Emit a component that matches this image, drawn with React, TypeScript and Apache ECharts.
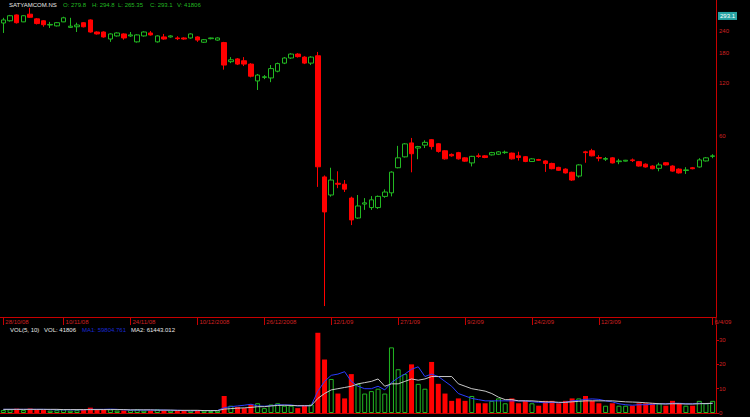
import React, { useEffect, useRef } from 'react';
import * as echarts from 'echarts';

// [open, close, low, high]
const ohlc: [number, number, number, number][] = [
  [267, 278, 234, 286], [275, 294, 272, 297], [297, 268, 265, 299], [271, 294, 270, 296],
  [300, 288, 286, 326], [282, 265, 262, 285], [275, 261, 254, 277], [260, 262, 250, 271],
  [257, 268, 255, 270], [271, 286, 270, 290], [252, 256, 250, 286], [254, 260, 237, 268],
  [268, 254, 252, 270], [278, 237, 235, 280], [237, 231, 229, 239], [237, 222, 220, 239],
  [216, 231, 208, 233], [225, 234, 223, 236], [231, 219, 214, 233], [225, 228, 222, 237],
  [208, 228, 206, 230], [225, 237, 223, 239], [234, 228, 226, 240], [208, 225, 206, 227],
  [222, 216, 214, 231], [222, 225, 220, 227], [219, 217, 213, 224], [219, 216, 214, 221],
  [219, 231, 217, 233], [222, 213, 208, 224], [207, 214, 205, 216], [217, 219, 215, 220],
  [213, 219, 211, 221], [206, 153, 144, 208], [160, 164, 157, 170], [166, 155, 153, 168],
  [162, 155, 151, 170], [155, 132, 130, 157], [124, 134, 110, 136], [130, 131, 127, 134],
  [129, 146, 122, 153], [141, 156, 139, 158], [157, 168, 155, 170], [168, 177, 166, 179],
  [177, 171, 169, 179], [170, 157, 155, 172], [157, 170, 153, 172], [173, 39.8, 30.5, 182],
  [34.8, 21.9, 6.3, 35.5], [27.4, 33.4, 26.8, 39.3], [32, 31.6, 30, 37.5], [31.6, 29.6, 28.5, 33.4],
  [26.3, 19.7, 18.4, 26.8], [20.2, 23.7, 20, 27.4], [24.3, 24.7, 22.5, 26.3], [23.2, 25.7, 22.5, 27],
  [23.2, 26.9, 22.8, 27.2], [26.9, 28.5, 26.4, 29.5], [28.2, 37.1, 26.9, 37.5], [39.3, 44.8, 39, 52.5],
  [45.4, 53.9, 45, 54.5], [54.6, 47.3, 37, 58.3], [51, 52, 44, 52.5], [53, 55, 51, 56.5],
  [57, 52, 50, 57.5], [54, 48.8, 48, 54.5], [49.2, 44.2, 43.8, 49.6], [46.9, 46, 45.5, 47.5],
  [48, 44.2, 43.8, 48.5], [44.8, 42.9, 42.5, 45.2], [41.9, 45.7, 40, 46], [46, 45.6, 44.8, 47.5],
  [46, 45, 44.6, 46.4], [46.6, 48, 46.2, 48.5], [47, 48.5, 46.5, 49], [48, 48.3, 47.2, 49.3],
  [47.7, 44.2, 43.8, 48], [46, 45, 43.2, 48.6], [45.5, 42.7, 42.3, 45.9], [42.7, 44.2, 42.4, 44.6],
  [43.8, 43.4, 43.1, 44.2], [43, 41.6, 37.2, 43.4], [41.6, 38.8, 38.5, 42], [39.5, 38, 37.7, 39.8],
  [38.6, 36.7, 36.4, 39], [37, 33.4, 33, 37.3], [35.2, 40.8, 34.5, 41.2], [48.5, 48, 42, 49.2],
  [49.2, 46, 45.7, 50.5], [45, 44.6, 42.8, 46.4], [44, 44.4, 43, 45.3], [44.8, 41.9, 41.6, 45.2],
  [42.6, 43, 41.2, 44.2], [42.9, 43.4, 42.7, 43.6], [43.6, 43.2, 42.4, 44.4], [42.6, 40.2, 39.9, 43],
  [41.2, 39.7, 39.4, 41.6], [40.2, 38.8, 38.5, 40.6], [39, 40.8, 37.5, 42], [42, 40.8, 40.5, 42.4],
  [40.2, 37.6, 37.3, 40.6], [38.6, 36.7, 36.4, 39], [37.9, 38.2, 36.2, 39.6], [39.3, 38.8, 38.5, 39.7],
  [39.7, 43.6, 39.4, 44.6], [43, 44.8, 42.7, 45.3], [45.7, 46, 44.6, 47],
];

const volume: number[] = [
  1.2, 1.5, 1.8, 1.2, 1.8, 1.5, 1.2, 1, 1.2, 1.5, 1, 1.2, 1.5, 2.2, 1.2, 1.5, 1.5, 1, 1, 1.2, 1.5, 1, 1, 1.5, 1, 1, 0.8, 0.8, 1, 1.2, 1, 0.8, 1,
  7, 3, 2.5, 2, 3.5, 4, 2, 3.5, 4, 3, 3, 2, 3, 3.5,
  33, 22, 14, 8, 6, 16, 12, 8, 9, 10, 8, 27, 18, 16, 20, 12, 10, 21, 12, 8, 5, 6, 5, 7,
  4, 4, 5, 6, 4, 6, 4, 5, 4, 3, 5, 5, 4, 5, 6, 6, 7, 5, 4, 3, 4, 3, 3, 3, 4, 4, 4, 4, 3, 5, 4, 3, 3, 5, 4, 5,
];

const volMa1: number[] = [
  1.5, 1.5, 1.5, 1.5, 1.5, 1.5, 1.5, 1.4, 1.3, 1.3, 1.3, 1.3, 1.3, 1.5, 1.5, 1.5, 1.6, 1.5, 1.3, 1.2, 1.2, 1.2, 1.2, 1.2, 1.2, 1.1, 1.1, 1, 0.9, 1, 1, 1, 1,
  2.2, 2.6, 2.9, 3.2, 3.6, 2.9, 2.8, 3, 3.4, 3.3, 3.3, 2.9, 3, 3,
  9, 13, 15.5, 16, 17, 13, 11, 10, 10, 11, 9.5, 12.5, 14.5, 16, 18, 19, 15, 16, 15, 13, 11, 8, 7, 6,
  5.5, 5, 5, 5, 5, 5, 5, 5, 4.6, 4.4, 4.2, 4.4, 4.2, 4.4, 5, 5.2, 5.6, 5.8, 5.6, 5, 4.6, 3.8, 3.4, 3.2,
  3.4, 3.4, 3.6, 3.8, 3.8, 4, 4, 3.8, 3.8, 4, 3.8, 4,
];

const volMa2: number[] = [
  1.5, 1.5, 1.5, 1.5, 1.5, 1.5, 1.5, 1.5, 1.5, 1.4, 1.4, 1.4, 1.4, 1.4, 1.4, 1.4, 1.4, 1.4, 1.4, 1.3, 1.3, 1.3, 1.3, 1.2, 1.2, 1.2, 1.1, 1.1, 1.1, 1.1, 1, 1, 1,
  1.6, 1.8, 2, 2.1, 2.3, 2.6, 2.6, 2.9, 3.1, 3.2, 3.1, 3, 3, 3,
  6, 8, 9.5, 10, 10.5, 11, 12, 12.5, 13, 14, 11, 12, 12, 13, 14, 13.5, 14, 15, 15, 15, 15, 12, 11, 10,
  9.5, 9, 8, 6.5, 5.5, 5.5, 5, 5, 5, 4.8, 4.6, 4.6, 4.4, 4.4, 4.6, 4.8, 5, 5, 5, 5, 5, 4.8, 4.6, 4.5,
  4.4, 4.2, 4, 3.8, 3.7, 3.8, 3.8, 3.7, 3.7, 3.8, 3.9, 4,
];

const dateLabels: Record<number, string> = {
  0: '28/10/08', 9: '10/11/08', 19: '24/11/08', 29: '10/12/2008', 39: '26/12/2008',
  49: '12/1/09', 59: '27/1/09', 69: '9/2/09', 79: '24/2/09', 89: '12/3/09', 106: '6/4/09',
};

const priceTicks = [60, 120, 180, 240];
const lastPrice = 293.1;

const RED = '#ff0000';
const AXIS_RED = '#c80000';
const GREEN = '#22b822';
const FONT = 'Liberation Sans, Arial, sans-serif';

export default function App() {
  const ref = useRef<HTMLDivElement>(null);
  useEffect(() => {
    document.body.style.margin = '0';
    document.body.style.background = '#000';
    const chart = echarts.init(ref.current!, undefined, { renderer: 'svg' });
    const categories = ohlc.map((_, i) => dateLabels[i] ?? String(i));
    const isLabel = (i: number) => dateLabels[i] !== undefined;

    const option: any = {
      animation: false,
      backgroundColor: '#000',
      grid: [
        { left: -2, right: 34, top: 0, height: 317 },
        { left: -2, right: 34, top: 325, bottom: 4 },
      ],
      xAxis: [
        {
          type: 'category', gridIndex: 0, data: categories, boundaryGap: true,
          axisLine: { show: true, lineStyle: { color: AXIS_RED, width: 1 } },
          axisTick: { show: true, alignWithLabel: true, interval: (i: number) => isLabel(i), length: 8, lineStyle: { color: AXIS_RED } },
          axisLabel: {
            show: true, interval: (i: number) => isLabel(i), color: '#d02020', fontSize: 6,
            fontFamily: FONT, align: 'left', margin: 2, padding: [0, 0, 0, 2],
          },
          splitLine: { show: false },
        },
        {
          type: 'category', gridIndex: 1, data: categories, boundaryGap: true, position: 'top',
          axisLine: { show: true, lineStyle: { color: AXIS_RED, width: 1 } },
          axisTick: { show: false }, axisLabel: { show: false }, splitLine: { show: false },
        },
      ],
      yAxis: [
        {
          type: 'log', logBase: 10, gridIndex: 0, position: 'right', min: 5.45, max: 362,
          axisLine: { show: true, lineStyle: { color: AXIS_RED } },
          axisTick: { show: false }, axisLabel: { show: false }, splitLine: { show: false },
        },
        {
          type: 'value', gridIndex: 1, position: 'right', min: 0, max: 36.2, interval: 10,
          axisLine: { show: true, lineStyle: { color: AXIS_RED } },
          axisTick: { show: true, length: 3, lineStyle: { color: AXIS_RED } },
          axisLabel: { show: true, showMaxLabel: false, color: '#d02020', fontSize: 6, fontFamily: FONT, margin: 3 },
          splitLine: { show: false },
        },
      ],
      series: [
        {
          type: 'candlestick', xAxisIndex: 0, yAxisIndex: 0, barWidth: 5,
          data: ohlc.map(([o, c, l, h]) => [o, c, l, h]),
          itemStyle: { color: '#000', color0: RED, borderColor: GREEN, borderColor0: RED, borderWidth: 1 },
          markLine: {
            silent: true, symbol: ['none', 'none'], animation: false,
            lineStyle: { color: 'transparent', width: 0 },
            label: { position: 'end', color: '#d02020', fontSize: 6, fontFamily: FONT, distance: 3 },
            data: [
              ...priceTicks.map(v => ({ yAxis: v, label: { formatter: String(v) } })),
              {
                yAxis: lastPrice,
                label: { formatter: String(lastPrice), color: '#ffffff', backgroundColor: '#27a3a3', padding: [1, 2, 1, 2], distance: 2 },
              },
            ],
          },
        },
        {
          type: 'bar', xAxisIndex: 1, yAxisIndex: 1, barWidth: 5,
          data: volume.map((v, i) => {
            const up = ohlc[i][1] >= ohlc[i][0];
            return {
              value: v,
              itemStyle: up ? { color: '#000', borderColor: GREEN, borderWidth: 1 } : { color: RED },
            };
          }),
        },
        {
          type: 'line', xAxisIndex: 1, yAxisIndex: 1, data: volMa1, showSymbol: false,
          lineStyle: { color: '#2a3cff', width: 1 }, z: 5,
        },
        {
          type: 'line', xAxisIndex: 1, yAxisIndex: 1, data: volMa2, showSymbol: false,
          lineStyle: { color: '#c8c8c8', width: 1 }, z: 5,
        },
      ],
      graphic: [
        { type: 'line', shape: { x1: 716, y1: 317, x2: 716, y2: 325 }, style: { stroke: AXIS_RED, lineWidth: 1 } },
        { type: 'text', x: 9, y: 5, style: { text: 'SATYAMCOM.NS', fill: '#e8e8e8', font: `6px ${FONT}`, verticalAlign: 'middle' } },
        { type: 'text', x: 63, y: 5, style: { text: 'O: 279.8', fill: GREEN, font: `6px ${FONT}`, verticalAlign: 'middle' } },
        { type: 'text', x: 92, y: 5, style: { text: 'H: 294.8', fill: GREEN, font: `6px ${FONT}`, verticalAlign: 'middle' } },
        { type: 'text', x: 118, y: 5, style: { text: 'L: 265.35', fill: GREEN, font: `6px ${FONT}`, verticalAlign: 'middle' } },
        { type: 'text', x: 150, y: 5, style: { text: 'C: 293.1', fill: GREEN, font: `6px ${FONT}`, verticalAlign: 'middle' } },
        { type: 'text', x: 177, y: 5, style: { text: 'V: 41806', fill: GREEN, font: `6px ${FONT}`, verticalAlign: 'middle' } },
        { type: 'text', x: 10, y: 330, style: { text: 'VOL(5, 10)', fill: '#e8e8e8', font: `6px ${FONT}`, verticalAlign: 'middle' } },
        { type: 'text', x: 44, y: 330, style: { text: 'VOL: 41806', fill: '#e8e8e8', font: `6px ${FONT}`, verticalAlign: 'middle' } },
        { type: 'text', x: 82, y: 330, style: { text: 'MA1: 59804.761', fill: '#1a2ad0', font: `6px ${FONT}`, verticalAlign: 'middle' } },
        { type: 'text', x: 131, y: 330, style: { text: 'MA2: 61443.012', fill: '#e8e8e8', font: `6px ${FONT}`, verticalAlign: 'middle' } },
      ],
    };
    chart.setOption(option);
    return () => chart.dispose();
  }, []);
  return <div ref={ref} style={{ width: 750, height: 417, background: '#000' }} />;
}
